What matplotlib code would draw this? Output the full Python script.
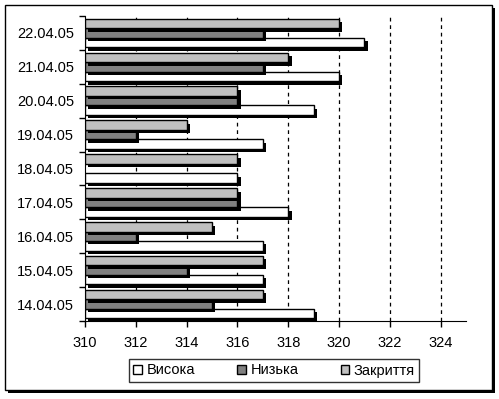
import matplotlib
matplotlib.use('Agg')
import matplotlib.pyplot as plt
import matplotlib.patheffects as pe
from matplotlib.patches import Rectangle
import numpy as np

plt.rcParams['font.family'] = ['Liberation Sans', 'DejaVu Sans']

# дані
dates = ['14.04.05', '15.04.05', '16.04.05', '17.04.05', '18.04.05',
         '19.04.05', '20.04.05', '21.04.05', '22.04.05']
high = [319, 317, 317, 318, 316, 317, 319, 320, 321]
low = [315, 314, 312, 316, 310, 312, 316, 317, 317]
close = [317, 317, 315, 316, 316, 314, 316, 318, 320]
series_names = ['Висока', 'Низька', 'Закриття']
colors = ['#ffffff', '#808080', '#c0c0c0']
base = 310

fig = plt.figure(figsize=(4.99, 3.99), dpi=100)

# рамка з тінню
fig.patches.append(Rectangle((8 / 499, 1 - 393 / 399), 487 / 499, 385 / 399,
                             transform=fig.transFigure, facecolor='black',
                             edgecolor='none', zorder=-2))
fig.patches.append(Rectangle((5 / 499, 1 - 390 / 399), 487 / 499, 385 / 399,
                             transform=fig.transFigure, facecolor='white',
                             edgecolor='black', lw=1, zorder=-1))

ax = fig.add_axes([85 / 499, 1 - 321 / 399, 381 / 499, 305 / 399])
ax.patch.set_alpha(0)

y = np.arange(len(dates))
h = 0.28
shadow = [pe.SimplePatchShadow(offset=(2.5, -2.5), shadow_rgbFace='black', alpha=1), pe.Normal()]
for vals, off, col, name in [(high, -h, colors[0], series_names[0]),
                             (low, 0, colors[1], series_names[1]),
                             (close, h, colors[2], series_names[2])]:
    widths = [v - base for v in vals]
    bars = ax.barh(y + off, widths, height=h, left=base, color=col,
                   edgecolor='black', lw=1, label=name, zorder=3)
    for b, w in zip(bars, widths):
        if w > 0:
            b.set_path_effects(shadow)
        else:
            b.set_visible(False)

ax.set_xlim(310, 325)
ax.set_ylim(-0.5, len(dates) - 0.5)
ax.set_xticks(range(310, 325, 2))
ax.set_yticks(y)
ax.set_yticklabels(dates)
ax.set_yticks(np.arange(len(dates) + 1) - 0.5, minor=True)
ax.tick_params(axis='y', which='major', length=0, pad=8, labelsize=10.5)
ax.tick_params(axis='y', which='minor', length=4, direction='out', width=1)
ax.tick_params(axis='x', length=4, direction='out', width=1, pad=7, labelsize=10.5)

for xv in range(312, 325, 2):
    ax.axvline(xv, color='black', lw=0.9, ls=(0, (3, 3)), zorder=1)

ax.spines['top'].set_visible(False)
ax.spines['right'].set_visible(False)

leg = fig.legend(loc='center', bbox_to_anchor=(274 / 499, 1 - 370.5 / 399), ncol=3,
                 frameon=True, fancybox=False, edgecolor='black', fontsize=10.5,
                 handlelength=0.6, handleheight=0.6, handletextpad=0.3,
                 columnspacing=2.9, borderpad=0.3)
leg.get_frame().set_linewidth(1)
for hnd in leg.legend_handles:
    hnd.set_path_effects([])
    hnd.set_visible(True)

fig.savefig('out.png', dpi=100)
